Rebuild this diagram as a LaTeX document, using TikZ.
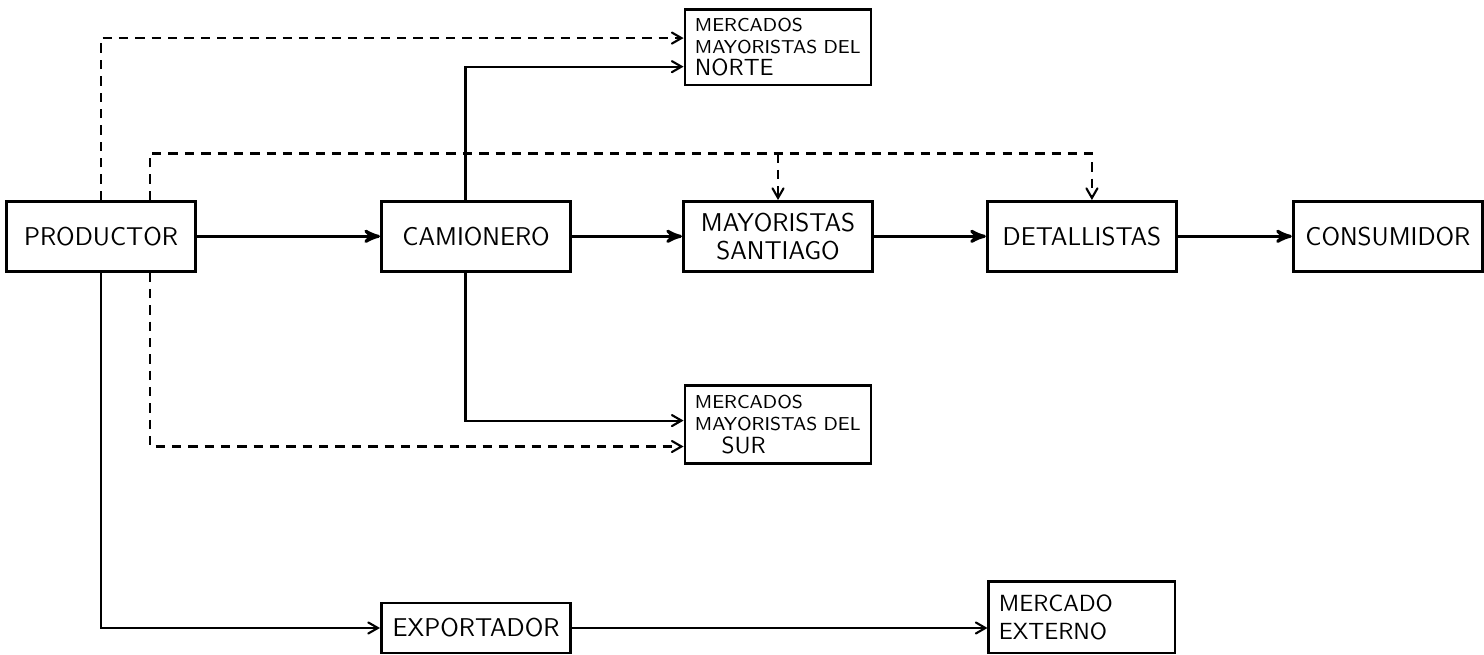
\documentclass[tikz,border=0pt]{standalone}
\usepackage{tikz}
\usetikzlibrary{positioning,arrows}

\begin{document}
\begin{tikzpicture}[->,>=angle 60,node distance=2.75cm,line width=0.9pt,
	box/.style={draw,->,line width=1.2pt,minimum width=2.85cm,minimum height=1.05cm,inner ysep=2pt,align=center,font=\sffamily\fontsize{11}{12}\selectfont},
	smallbox/.style={draw,line width=1.2pt,minimum width=2.8cm,minimum height=1.13cm,inner ysep=2pt,align=left,text width=2.5cm,font=\sffamily\footnotesize},
	main/.style={line width=1.3pt,-stealth'},
	trazo/.style={dash pattern=on 4pt off 3pt}]
			\node[box] (prod) {PRODUCTOR};
			\node[box] (cam) [right=of prod] {CAMIONERO};
			\node[box] (may) [right=1.65cm of cam] {MAYORISTAS\\SANTIAGO};
			\node[box] (det) [right=1.68cm of may] {DETALLISTAS};
			\node[box] (cons) [right=1.71cm of det] {CONSUMIDOR};
			\node[smallbox] (norte) [above=1.71cm of may] {MERCADOS\\MAYORISTAS DEL\\{\normalsize NORTE}};
			\node[smallbox,minimum height=1.17cm] (sur) [below=1.68cm of may] {MERCADOS\\MAYORISTAS DEL\\\hspace{4mm}{\normalsize SUR}};
			\node[box,minimum height=0.75cm] (exp) [below=4.95cm of cam] {EXPORTADOR};
			\node[smallbox,minimum height=1.08cm,font=\sffamily\normalsize] (ext) [below=4.62cm of det] {MERCADO\\EXTERNO};
			\coordinate (top) at ([xshift=.73cm,yshift=.7cm]prod.north);

			\useasboundingbox (-1.52,3.555) rectangle (20.74,-6.27);

			\draw[main] (prod) -- (cam);
			\draw[main] (cam) -- (may);
			\draw[main] (may) -- (det);
			\draw[main] (det) -- (cons);

			\draw ([xshift=-.16cm]cam.north) |- ([yshift=-.29cm]norte.west);
			\draw ([xshift=-.16cm]cam.south) |- ([yshift=.06cm]sur.west);
			\draw (prod.south) |- (exp.west);
			\draw (exp) -- (exp -| ext.west);

			\draw[trazo] (prod.north) |- ([yshift=.14cm]norte.west);
			\draw[trazo] ([xshift=.73cm]prod.north) -- (top) -| ([xshift=.15cm]det.north);
			\draw[trazo] (top -| may.north) -- (may.north);
			\draw[trazo] ([xshift=.73cm]prod.south) |- ([yshift=-.33cm]sur.west);
\end{tikzpicture}
\end{document}
